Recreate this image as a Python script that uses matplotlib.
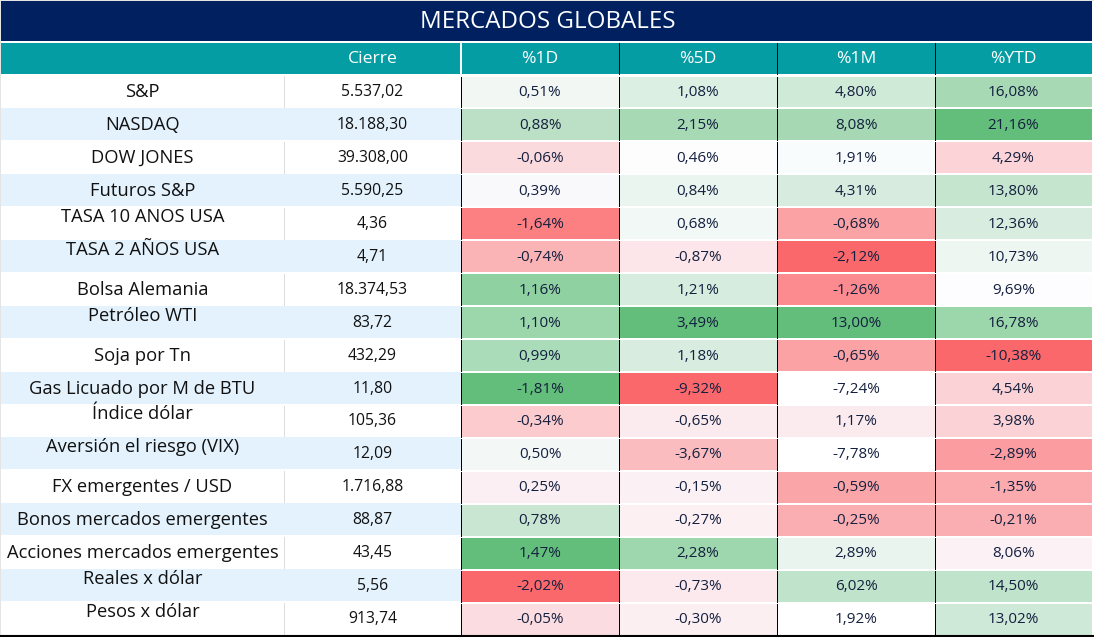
import matplotlib
matplotlib.use("Agg")
import matplotlib.pyplot as plt
from matplotlib.patches import Rectangle

plt.rcParams['font.family'] = ['Open Sans', 'DejaVu Sans']

title = "MERCADOS GLOBALES"
columns = ["Cierre", "%1D", "%5D", "%1M", "%YTD"]
labels = ["S&P", "NASDAQ", "DOW JONES", "Futuros S&P", "TASA 10 ANOS USA", "TASA 2 AÑOS USA",
          "Bolsa Alemania", "Petróleo WTI", "Soja por Tn", "Gas Licuado por M de BTU", "Índice dólar",
          "Aversión el riesgo (VIX)", "FX emergentes / USD", "Bonos mercados emergentes",
          "Acciones mercados emergentes", "Reales x dólar", "Pesos x dólar"]
close = ["5.537,02", "18.188,30", "39.308,00", "5.590,25", "4,36", "4,71", "18.374,53", "83,72", "432,29",
         "11,80", "105,36", "12,09", "1.716,88", "88,87", "43,45", "5,56", "913,74"]
d1 = ["0,51%", "0,88%", "-0,06%", "0,39%", "-1,64%", "-0,74%", "1,16%", "1,10%", "0,99%", "-1,81%", "-0,34%",
      "0,50%", "0,25%", "0,78%", "1,47%", "-2,02%", "-0,05%"]
d5 = ["1,08%", "2,15%", "0,46%", "0,84%", "0,68%", "-0,87%", "1,21%", "3,49%", "1,18%", "-9,32%", "-0,65%",
      "-3,67%", "-0,15%", "-0,27%", "2,28%", "-0,73%", "-0,30%"]
m1 = ["4,80%", "8,08%", "1,91%", "4,31%", "-0,68%", "-2,12%", "-1,26%", "13,00%", "-0,65%", "-7,24%", "1,17%",
      "-7,78%", "-0,59%", "-0,25%", "2,89%", "6,02%", "1,92%"]
ytd = ["16,08%", "21,16%", "4,29%", "13,80%", "12,36%", "10,73%", "9,69%", "16,78%", "-10,38%", "4,54%", "3,98%",
       "-2,89%", "-1,35%", "-0,21%", "8,06%", "14,50%", "13,02%"]
raised = [0, 0, 0, 0, 1, 1, 0, 1, 0, 0, 1, 1, 0, 0, 0, 1, 1]

heat = [
    ["#F2F7F4", "#DCEFE3", "#D0EAD8", "#A7D9B5"],
    ["#BBE0C5", "#A7D9B5", "#A5D8B3", "#63BD7B"],
    ["#FBDADD", "#FDFDFE", "#F8FCFC", "#FCD3D7"],
    ["#F9F8FB", "#E9F5EE", "#D7ECDF", "#C6E5CF"],
    ["#FC7F82", "#F2F8F6", "#FBA2A5", "#D8EDDF"],
    ["#FBB4B6", "#FCE6E9", "#FB686C", "#EDF6F1"],
    ["#90D1A2", "#D6ECDE", "#FB8B8E", "#FDFDFF"],
    ["#9CD6AB", "#63BD7B", "#63BD7B", "#9CD6AB"],
    ["#ABDCB9", "#D8EDDF", "#FBA2A5", "#FB686C"],
    ["#63BD7B", "#FB686C", "#FFFFFF", "#FBD2D5"],
    ["#FCCBCE", "#FCEBEE", "#FCEBEE", "#FBD2D5"],
    ["#F3F7F6", "#FBBCBF", "#FFFFFF", "#FB9CA0"],
    ["#FBEFF3", "#FBF1F5", "#FAA6A9", "#FBAAAE"],
    ["#C9E6D3", "#FCF0F3", "#FBAEB1", "#FBAEB1"],
    ["#63BD7B", "#9ED6AD", "#EAF4EE", "#FCF1F4"],
    ["#FB686C", "#FBE9ED", "#C0E4CB", "#C0E4CB"],
    ["#FBDCE0", "#FCEFF2", "#FFFFFF", "#CEE9D7"],
]

W, H = 1094, 637
NAVY, TEAL, BLUE, INK = "#002060", "#059DA4", "#E3F2FD", "#14203F"
edges = [1, 284, 461, 619, 777, 935, 1092]
top, row_h = 75, 32.95
n = len(labels)
THIN = 0.72

fig = plt.figure(figsize=(W / 100, H / 100), dpi=100, facecolor="white")
ax = fig.add_axes([0, 0, 1, 1])
ax.set_xlim(0, W)
ax.set_ylim(H, 0)
ax.axis("off")

def box(x0, y0, x1, y1, color):
    ax.add_patch(Rectangle((x0, y0), x1 - x0, y1 - y0, fc=color, ec="none"))

box(0, 0, W, 1, "#E4E4E4")
box(0, 0, 1, H, "#E4E4E4")
box(1, 1, edges[-1], 41, NAVY)
ax.text((edges[0] + edges[-1]) / 2 + 1, 22, title, color="white", fontsize=17.4, ha="center", va="center")
box(1, 43, edges[-1], 74, TEAL)
for k, name in enumerate(columns):
    ax.text((edges[k + 1] + edges[k + 2]) / 2, 59, name, color="white", fontsize=12.6, ha="center", va="center")
ax.plot([edges[2], edges[2]], [43, 74], color="white", lw=1.4)
for x in edges[3:6]:
    ax.plot([x, x], [43, 74], color="black", lw=THIN)

series = [d1, d5, m1, ytd]
for i in range(n):
    y0 = top + i * row_h
    y1 = y0 + row_h
    yc = (y0 + y1) / 2
    if i % 2:
        box(1, y0, edges[2], y1 - 1, BLUE)
    else:
        ax.plot([edges[1], edges[1]], [y0 + 1, y1 - 1], color="#DDDDDD", lw=THIN)
    ax.text((edges[0] + edges[1]) / 2, yc + 0.5 - (7 if raised[i] else 0), labels[i],
            color="#111111", fontsize=13.2, ha="center", va="center")
    ax.text((edges[1] + edges[2]) / 2, yc + 0.5, close[i], color="#111111", fontsize=11.3,
            fontweight="medium", ha="center", va="center")
    for j, s in enumerate(series):
        box(edges[j + 2], y0 + 1.5, edges[j + 3], y1 - 0.5, heat[i][j])
        ax.text((edges[j + 2] + edges[j + 3]) / 2, yc + 1, s[i], color=INK, fontsize=11,
                ha="center", va="center")
    for x in edges[2:6]:
        ax.plot([x, x], [y0 + 1.5, y1 - 0.5], color="black", lw=THIN)

ax.plot([0, W], [top + n * row_h + 0.5] * 2, color="black", lw=1.5)
fig.savefig("out.png", dpi=100, facecolor="white")
